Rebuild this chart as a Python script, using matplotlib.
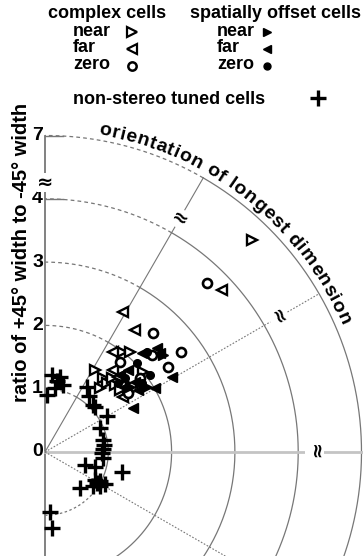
import matplotlib.pyplot as plt
import numpy as np

plt.rcParams['font.family'] = ['Liberation Sans', 'DejaVu Sans']
plt.rcParams['font.weight'] = 'bold'

# orientation of longest dimension (deg) and ratio of +45 width to -45 width
near_cc_angle = [45.7, 52.4, 49.6, 39.2, 58.6, 51.9, 49.3, 48.1, 35.9, 43.7, 40.8, 47.8, 39.6]
near_cc_ratio = [6.05, 1.99, 2.07, 2.00, 1.52, 1.49, 1.33, 1.47, 1.62, 1.53, 1.67, 1.58, 1.54]

far_cc_angle = [42.5, 60.9, 53.6, 55.8, 50.3, 35.2, 45.8]
far_cc_ratio = [3.79, 2.53, 2.40, 1.91, 1.68, 1.51, 1.65]

zero_cc_angle = [46.2, 47.8, 36.3, 42.2, 34.6, 50.2, 35.4, 37.9]
zero_cc_ratio = [3.70, 2.54, 2.67, 2.28, 2.36, 1.85, 1.61, 1.90]

near_so_angle = [39.4, 36.0, 37.4, 32.5]
near_so_ratio = [2.41, 1.85, 1.69, 1.91]

far_so_angle = [45.6, 44.7, 30.2, 26.6, 40.7, 30.6, 42.9, 45.8, 37.9, 33.7]
far_so_ratio = [2.19, 1.84, 2.01, 1.55, 2.40, 2.33, 2.41, 1.70, 1.80, 1.77]

zero_so_angle = [44.4, 44.0, 36.3, 43.4, 42.8, 35.4]
zero_so_ratio = [2.26, 2.02, 2.06, 1.59, 1.72, 1.88]

ns_angle = [84.8, 80.4, 75.0, 81.1, 88.0, 78.7, 57.1, 51.8, 44.4, 42.0, 30.1, 23.6, 11.7, 6.8,
            3.0, -1.0, -5.9, -18.0, -16.7, -14.6, -45.8, -30.8, -27.8, -35.3, -28.1, -29.2,
            -32.0, -85.2, -84.7]
ns_ratio = [1.22, 1.14, 1.10, 1.02, 0.90, 1.21, 1.22, 1.12, 1.06, 1.06, 1.13, 0.95, 0.94, 0.94,
            0.92, 0.90, 0.92, 0.66, 0.82, 1.26, 0.79, 0.96, 0.98, 0.93, 1.07, 0.91,
            1.02, 0.95, 1.21]

ring_values = [1, 2, 3, 4, 7]
tick_labels = ['0', '1', '2', '3', '4', '7']
tick_values = [0, 1, 2, 3, 4, 7]
spoke_angles = [60, 30, 0, -30]

PX = 63.3  # pixels per ratio unit
grid = '#777777'


def to_r(v):
    # axis break: 4..7 squeezed into 4..5
    v = np.asarray(v, dtype=float)
    return np.where(v <= 4, v, 4 + (v - 4) / 3.0)


def polar_xy(ang, ratio):
    r = to_r(ratio)
    a = np.radians(ang)
    return r * np.cos(a), r * np.sin(a)


def arc(r, a0, a1, **kw):
    t = np.radians(np.linspace(a0, a1, 200))
    ax.plot(r * np.cos(t), r * np.sin(t), **kw)


fig = plt.figure(figsize=(3.63, 5.56), dpi=100)
ax = fig.add_axes([0, 0, 1, 1])
ax.set_xlim(-45 / PX, 318 / PX)
ax.set_ylim(-104 / PX, 452 / PX)
ax.axis('off')

# rings
for v in ring_values:
    r = float(to_r(v))
    arc(r, 60, 90, color=grid, lw=0.9, ls=(0, (3, 2.5)))
    if v == 1:
        arc(r, -30, 60, color=grid, lw=0.9)
        arc(r, -90, -30, color=grid, lw=0.9, ls=(0, (2, 2)))
    else:
        arc(r, -90, 60, color=grid, lw=0.9)

rmax = float(to_r(7))
# spokes
ax.plot([0, 0], [-3, rmax], color=grid, lw=1.3)
ax.plot([0, 6], [0, 0], color='#c4c4c4', lw=2)
for a in spoke_angles:
    if a == 0:
        continue
    ls = '-' if a == 60 else (0, (1.5, 1.5))
    rr = rmax if a > 0 else 7
    t = np.radians(a)
    ax.plot([0, rr * np.cos(t)], [0, rr * np.sin(t)], color=grid, lw=0.8, ls=ls)

# ticks and labels
for v, lab in zip(tick_values, tick_labels):
    y = float(to_r(v))
    ax.text(-0.03, y, lab, ha='right', va='center', fontsize=14)
for v in [4, 7]:
    y = float(to_r(v))
    ax.plot([0, 0.28], [y, y], color=grid, lw=1.0)

# axis break marks
rb = 4.26
for a in [90, 60, 30, 0]:
    t = np.radians(a)
    ax.text(rb * np.cos(t), rb * np.sin(t), '\u2248', rotation=a - 90, ha='center', va='center',
            fontsize=14, fontweight='bold', family='DejaVu Sans',
            bbox=dict(fc='white', ec='none', pad=0.0), zorder=5)

ax.text(-0.37, 3.15, 'ratio of +45\u00b0 width to -45\u00b0 width', rotation=90,
        ha='center', va='center', fontsize=14.5)

# data
mk = dict(ls='none', color='k', zorder=6, clip_on=False)
x, y = polar_xy(ns_angle, ns_ratio)
ax.plot(x, y, marker='+', ms=11, mew=2.4, **mk)
x, y = polar_xy(near_cc_angle, near_cc_ratio)
ax.plot(x, y, marker='>', ms=7.5, mfc='white', mec='k', mew=1.7, **mk)
x, y = polar_xy(far_cc_angle, far_cc_ratio)
ax.plot(x, y, marker='<', ms=7.5, mfc='white', mec='k', mew=1.7, **mk)
x, y = polar_xy(zero_cc_angle, zero_cc_ratio)
ax.plot(x, y, marker='o', ms=6.5, mfc='white', mec='k', mew=1.9, **mk)
x, y = polar_xy(near_so_angle, near_so_ratio)
ax.plot(x, y, marker='>', ms=6.5, **mk)
x, y = polar_xy(far_so_angle, far_so_ratio)
ax.plot(x, y, marker='<', ms=6.5, **mk)
x, y = polar_xy(zero_so_angle, zero_so_ratio)
ax.plot(x, y, marker='o', ms=5.5, **mk)

# curved title along the outer ring
title = 'orientation of longest dimension'
fig.canvas.draw()
renderer = fig.canvas.get_renderer()
fs_t = 14


def width_px(s):
    t = ax.text(0, 0, s, fontsize=fs_t)
    w = t.get_window_extent(renderer).width
    t.remove()
    return w


total = width_px(title)
a_start, a_end = 80.5, 23.0
R_base = 322 / PX
for i, ch in enumerate(title):
    if ch == ' ':
        continue
    c = width_px(title[:i + 1]) - width_px(ch) / 2
    ang = a_start - (c / total) * (a_start - a_end)
    t = np.radians(ang)
    ax.text(R_base * np.cos(t), R_base * np.sin(t), ch, rotation=ang - 90,
            rotation_mode='anchor', ha='center', va='baseline', fontsize=fs_t)

# legend
W, H = 363.0, 556.0


def ftext(px, py, s):
    fig.text(px / W, 1 - py / H, s, ha='left', va='center', fontsize=13)


def fmark(px, py, **kw):
    ax.plot([px / W], [1 - py / H], transform=fig.transFigure, clip_on=False, ls='none',
            color='k', **kw)


ftext(48, 14, 'complex cells')
ftext(190, 14, 'spatially offset cells')
for row_y, lab in zip([31, 48, 65], ['near', 'far', 'zero']):
    ftext(73, row_y, lab)
    ftext(217, row_y, lab)
fmark(132, 32, marker='>', ms=6.5, mfc='white', mec='k', mew=1.6)
fmark(132, 49, marker='<', ms=6.5, mfc='white', mec='k', mew=1.6)
fmark(132, 66, marker='o', ms=6, mfc='white', mec='k', mew=1.8)
fmark(267, 32, marker='>', ms=6)
fmark(267, 49, marker='<', ms=6)
fmark(267, 66, marker='o', ms=5)
ftext(73, 99, 'non-stereo tuned cells')
fmark(318, 98, marker='+', ms=11, mew=2.4)

fig.savefig('out.png', dpi=100)
